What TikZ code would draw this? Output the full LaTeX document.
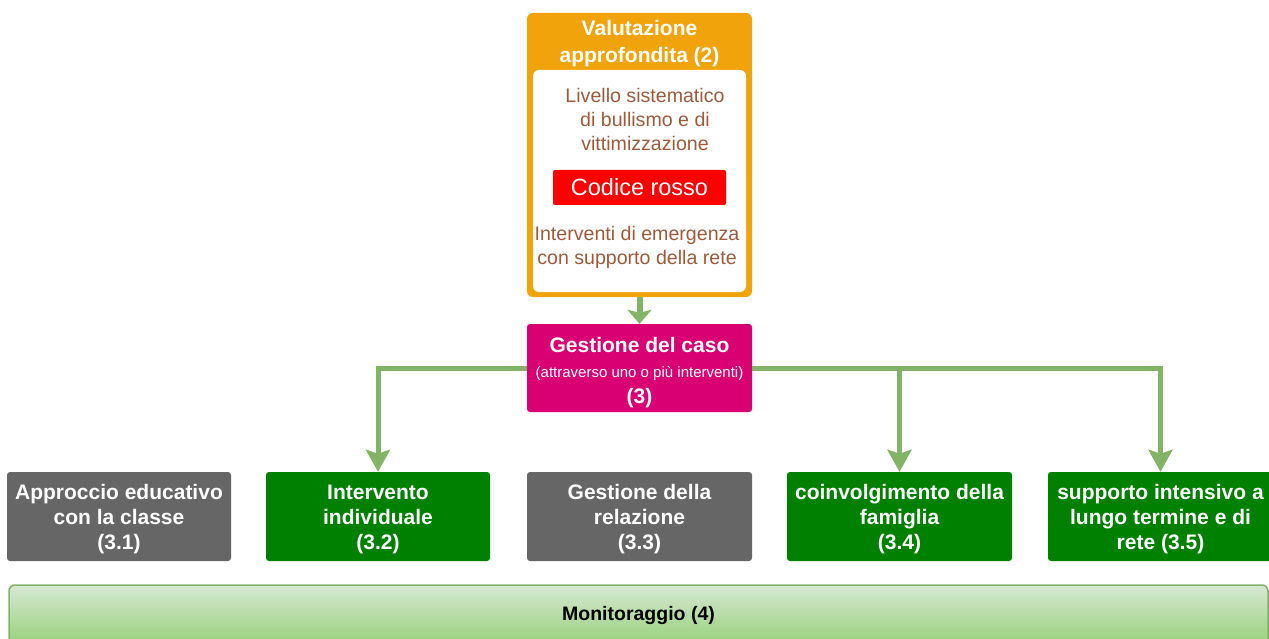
\documentclass[tikz,border=0pt]{standalone}
\usepackage{fontspec}
\setmainfont{Liberation Sans}
\usetikzlibrary{arrows.meta}
\definecolor{cgrey}{HTML}{666666}
\definecolor{cgreen}{HTML}{008000}
\definecolor{cmag}{HTML}{D80073}
\definecolor{corange}{HTML}{F0A30A}
\definecolor{cbrown}{HTML}{9E5B3C}
\definecolor{cconn}{HTML}{82B366}
\definecolor{cmtop}{HTML}{D5E8D4}
\definecolor{cmbot}{HTML}{97D077}
\tikzset{
  box/.style={rounded corners=3pt, minimum width=225pt, minimum height=89pt, inner sep=0pt},
  boxtext/.style={align=center, text=white, font=\bfseries\fontsize{21}{25}\selectfont, inner sep=0pt, yshift=-3pt},
  greybox/.style={box, fill=cgrey},
  greenbox/.style={box, fill=cgreen},
  conn/.style={draw=cconn, line width=5pt, -{Stealth[inset=4pt,width=24pt,length=22pt]}},
  browntext/.style={text=cbrown, align=center, font=\fontsize{19.6}{24}\selectfont, inner sep=0pt},
}
\begin{document}
\begin{tikzpicture}[x=1pt,y=-1pt]
\fill[white] (0,0) rectangle (1269,639);
\useasboundingbox (0,0) rectangle (1269,639);
% Valutazione approfondita
\node[fill=corange, rounded corners=6pt, minimum width=225pt, minimum height=284pt, inner sep=0pt] (v) at (639.5,155) {};
\node[text=white, align=center, font=\bfseries\fontsize{21}{27}\selectfont, inner sep=0pt] (vt) at (639.5,44) {Valutazione\\approfondita (2)};
\node[fill=white, rounded corners=6pt, minimum width=213pt, minimum height=222pt, inner sep=0pt] (w) at (639.5,181) {};
\node[browntext] (t1) at (645,119.3) {Livello sistematico\\di bullismo e di\\vittimizzazione};
\node[fill=red, rounded corners=2pt, minimum width=173pt, minimum height=35pt, inner sep=0pt, text=white, font=\fontsize{23.5}{28}\selectfont] (cr) at (639.5,187.5) {Codice rosso};
\node[browntext] (t2) at (637,247) {Interventi di emergenza\\con supporto della rete};
% Gestione del caso
\node[box, fill=cmag, minimum height=88pt,
  label={[boxtext, yshift=-1.5pt]center:{Gestione del caso\\{\normalfont\fontsize{15}{24}\selectfont (attraverso uno o più interventi)}\\[1pt](3)}}] (g) at (639.5,368) {};
% bottom boxes
\node[greybox, minimum width=224pt, label={[boxtext]center:{Approccio educativo\\con la classe\\(3.1)}}] (b1) at (119,516.5) {};
\node[greenbox, minimum width=224pt, label={[boxtext]center:{Intervento\\individuale\\(3.2)}}] (b2) at (378,516.5) {};
\node[greybox, label={[boxtext]center:{Gestione della\\relazione\\(3.3)}}] (b3) at (639.5,516.5) {};
\node[greenbox, label={[boxtext]center:{coinvolgimento della\\famiglia\\(3.4)}}] (b4) at (899.5,516.5) {};
\node[greenbox, label={[boxtext]center:{supporto intensivo a\\lungo termine e di\\rete (3.5)}}] (b5) at (1160.5,516.5) {};
% Monitoraggio
\node[draw=cconn, line width=1.5pt, top color=cmtop, bottom color=cmbot, rounded corners=6pt,
  minimum width=1259pt, minimum height=61pt, inner sep=0pt, font=\bfseries\fontsize{19.5}{24}\selectfont] (m) at (638.5,615.5) {Monitoraggio (4)};
% connectors
\draw[draw=cconn, line width=6pt, -{Stealth[inset=3pt,width=24pt,length=14pt]}] (v.south) -- (g.north);
\draw[conn] (g.west) -| (b2.north);
\draw[conn] (g.east) -| (b4.north);
\draw[conn] (g.east) -| (b5.north);
\end{tikzpicture}
\end{document}
